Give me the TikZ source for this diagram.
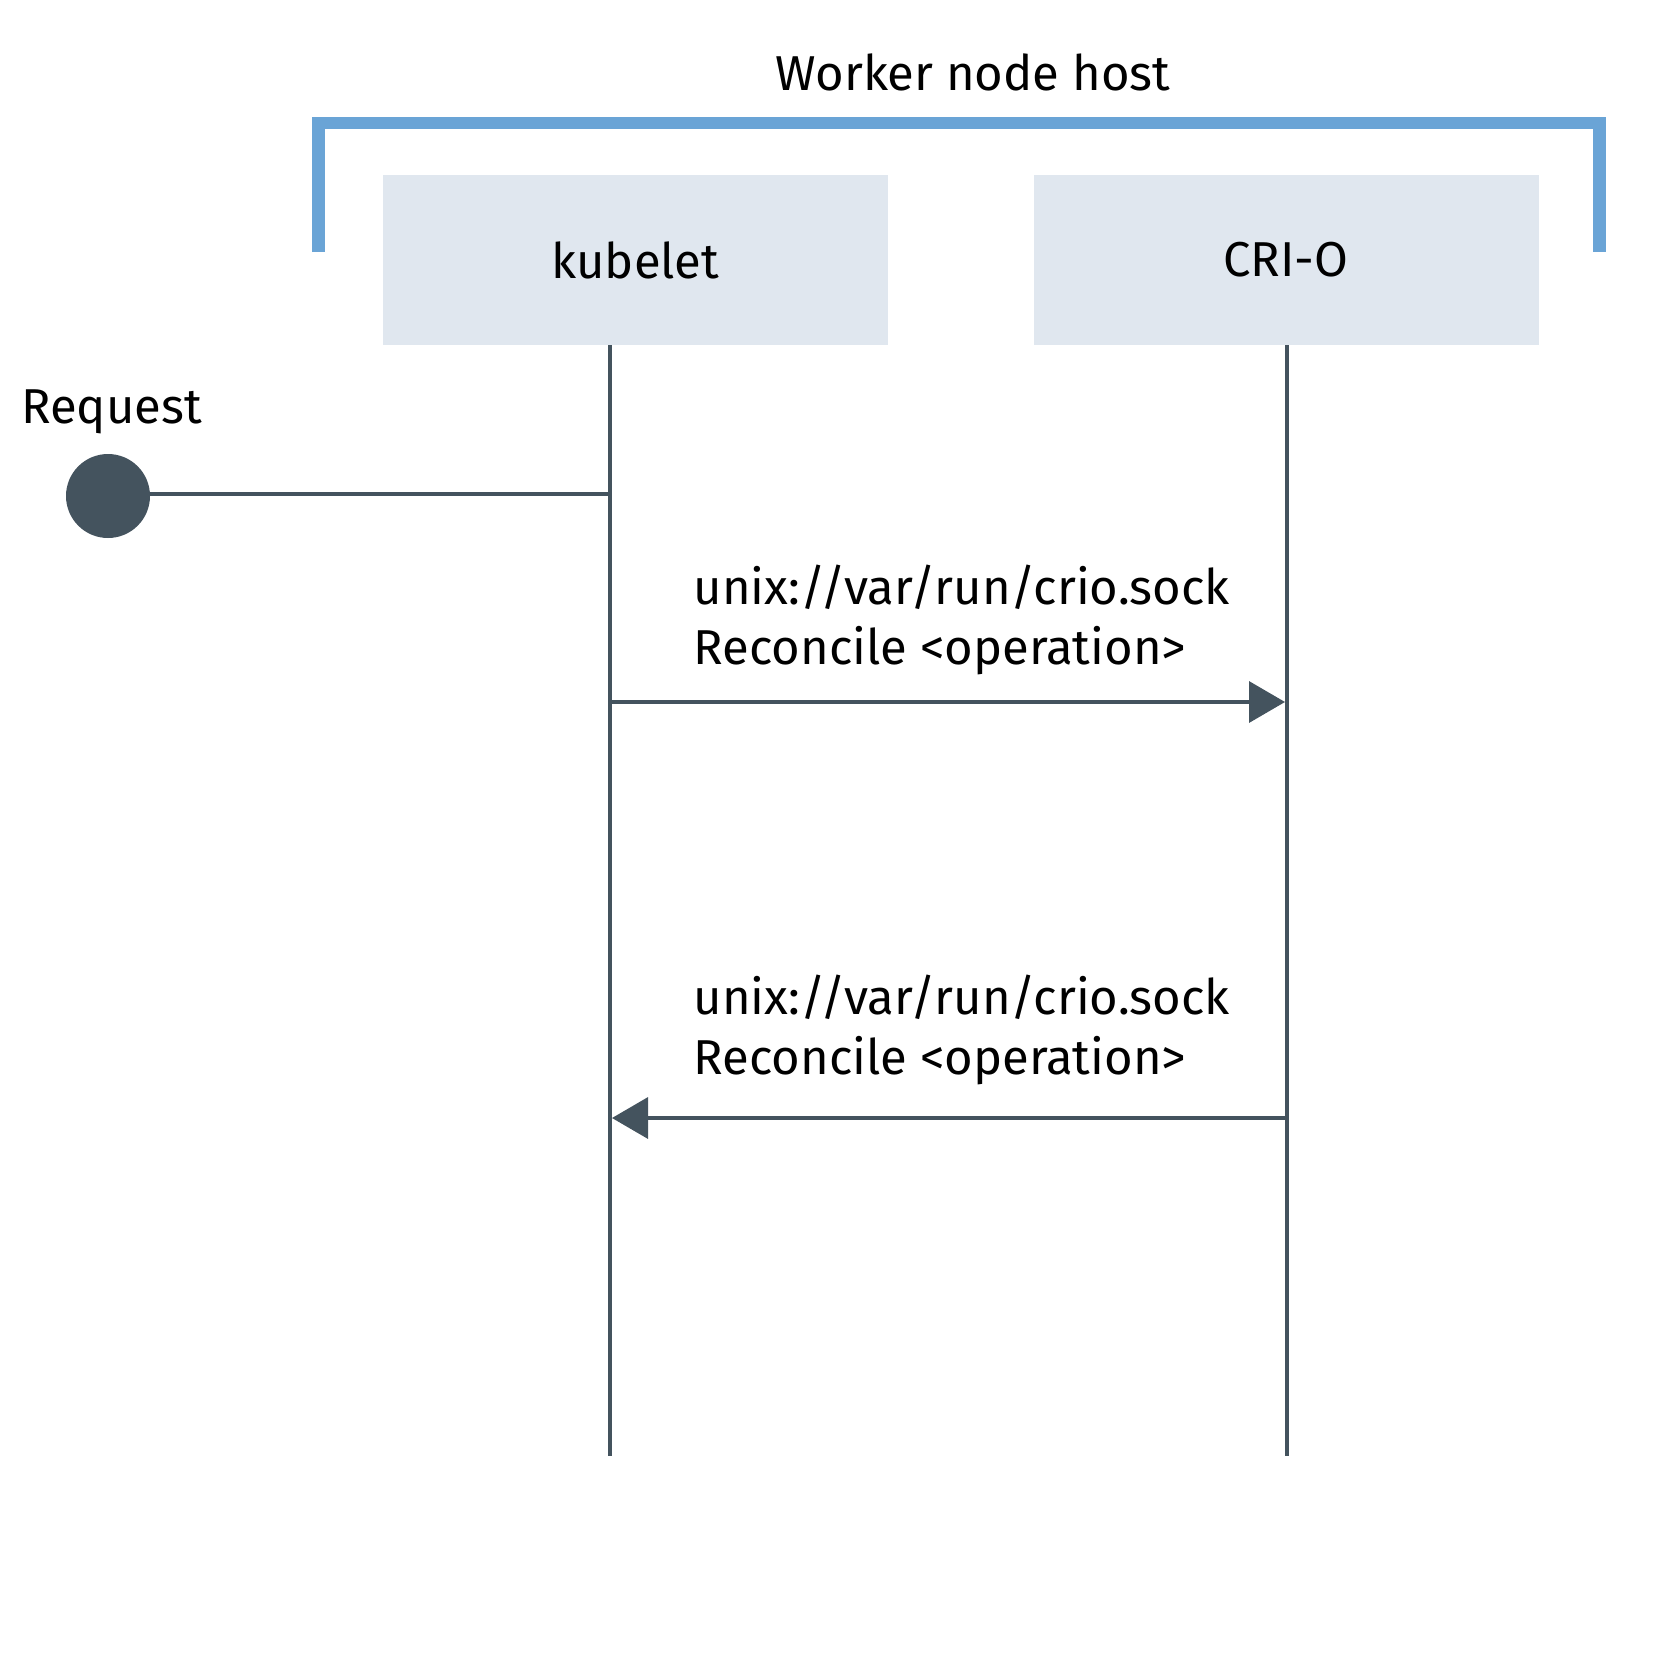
\documentclass[tikz,border=0pt]{standalone}
\usepackage{fontspec}
\setmainfont{Fira Sans}
\usetikzlibrary{arrows.meta}
\definecolor{lifeline}{HTML}{44535E}
\definecolor{boxfill}{HTML}{E0E7EF}
\definecolor{bracketblue}{HTML}{6AA4D6}
\tikzset{
  actor/.style={fill=boxfill, draw=none, minimum width=505pt, minimum height=170pt, inner sep=0pt, font=\fontsize{49}{60}\selectfont},
  life/.style={draw=lifeline, line width=3.5pt},
  msg/.style={draw=lifeline, line width=3.5pt, -{Triangle[length=36pt, width=41pt]}},
  lbl/.style={inner sep=0pt, align=left, font=\fontsize{49}{60}\selectfont},
  bracketline/.style={draw=bracketblue, line width=12.7pt, line cap=butt, line join=miter},
}
\begin{document}
\begin{tikzpicture}[x=1pt, y=-1pt]
\useasboundingbox (0,0) rectangle (1667,1667);
% bracket
\node[inner sep=0pt, anchor=base, font=\fontsize{49}{60}\selectfont] (host) at (973,91) {Worker node host};
\coordinate (bl) at (318.35,252);
\coordinate (br) at (1599.65,252);
\draw[bracketline] (bl) |- (959,123) -| (br);
% actors
\node[actor] (kub) at (635.5,260) {kubelet};
\node[actor] (cri) at (1286,260) {CRI-O};
\coordinate (kubend) at (610,1456);
\coordinate (criend) at (1287,1456);
\draw[life] (kub.south -| kubend) -- (kubend);
\draw[life] (cri.south -| criend) -- (criend);
% request
\node[inner sep=0pt, anchor=base west, font=\fontsize{49}{60}\selectfont] (reqlbl) at (21,423) {Request};
\node[circle, fill=lifeline, minimum size=84pt, inner sep=0pt] (req) at (108,496) {};
\coordinate (reqhit) at (610,494);
\draw[life] (req.east |- reqhit) -- (reqhit);
% messages
\node[lbl, anchor=base west] (m1) at (693.5,664) {unix://var/run/crio.sock\\Reconcile <operation>};
\coordinate (m1s) at (610,702);
\coordinate (m1e) at (1285,702);
\draw[msg] (m1s) -- (m1e);
\node[lbl, anchor=base west] (m2) at (693.5,1074) {unix://var/run/crio.sock\\Reconcile <operation>};
\coordinate (m2s) at (1287,1118);
\coordinate (m2e) at (612,1118);
\draw[msg] (m2s) -- (m2e);
\end{tikzpicture}
\end{document}
